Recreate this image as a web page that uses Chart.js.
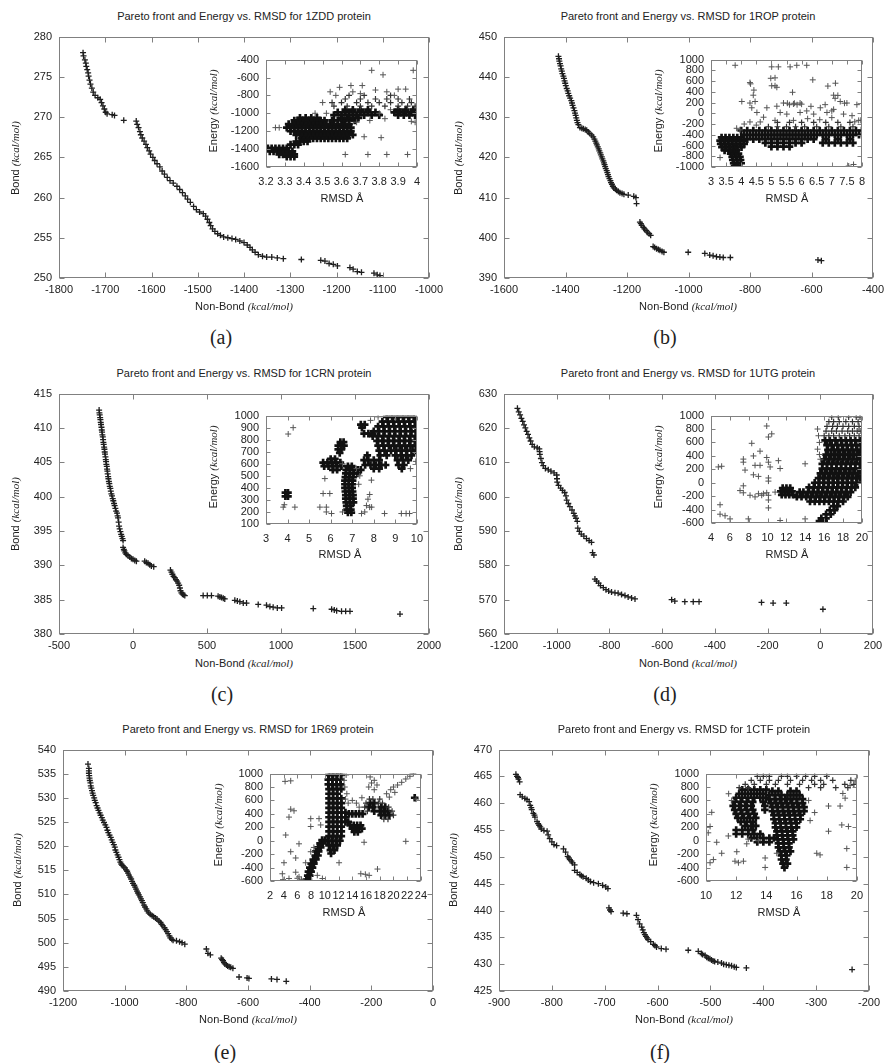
<!DOCTYPE html>
<html><head><meta charset="utf-8">
<script src="https://cdn.jsdelivr.net/npm/chart.js@4.4.0/dist/chart.umd.min.js"></script>
<style>
html,body{margin:0;padding:0;background:#fff;}
#wrap{position:relative;width:885px;height:1063px;overflow:hidden;background:#fff;}
canvas{position:absolute;}
.t{position:absolute;transform:translate(-50%,-50%);white-space:nowrap;font:11px 'Liberation Sans',Arial,sans-serif;color:#222;line-height:1;}
.r{transform:translate(-50%,-50%) rotate(-90deg);}
.t i{font-family:'Liberation Serif','Times New Roman',serif;font-style:italic;}
.cap{font:20px 'Liberation Serif','Times New Roman',serif;color:#222;}
</style></head>
<body><div id="wrap">
<canvas id="mA"></canvas><canvas id="mB"></canvas><canvas id="mC"></canvas>
<canvas id="mD"></canvas><canvas id="mE"></canvas><canvas id="mF"></canvas>
<canvas id="iA"></canvas><canvas id="iB"></canvas><canvas id="iC"></canvas>
<canvas id="iD"></canvas><canvas id="iE"></canvas><canvas id="iF"></canvas>

<div class="t" style="left:244px;top:16px">Pareto front and Energy vs. RMSD for 1ZDD protein</div>
<div class="t" style="left:688px;top:16px">Pareto front and Energy vs. RMSD for 1ROP protein</div>
<div class="t" style="left:244px;top:373px">Pareto front and Energy vs. RMSD for 1CRN protein</div>
<div class="t" style="left:688px;top:373px">Pareto front and Energy vs. RMSD for 1UTG protein</div>
<div class="t" style="left:248px;top:729px">Pareto front and Energy vs. RMSD for 1R69 protein</div>
<div class="t" style="left:684px;top:729px">Pareto front and Energy vs. RMSD for 1CTF protein</div>

<div class="t" style="left:244px;top:306px">Non-Bond <i>(kcal/mol)</i></div>
<div class="t" style="left:688px;top:306px">Non-Bond <i>(kcal/mol)</i></div>
<div class="t" style="left:244px;top:663px">Non-Bond <i>(kcal/mol)</i></div>
<div class="t" style="left:688px;top:663px">Non-Bond <i>(kcal/mol)</i></div>
<div class="t" style="left:248px;top:1019px">Non-Bond <i>(kcal/mol)</i></div>
<div class="t" style="left:684px;top:1019px">Non-Bond <i>(kcal/mol)</i></div>

<div class="t r" style="left:15px;top:158px">Bond <i>(kcal/mol)</i></div>
<div class="t r" style="left:458px;top:158px">Bond <i>(kcal/mol)</i></div>
<div class="t r" style="left:15px;top:514px">Bond <i>(kcal/mol)</i></div>
<div class="t r" style="left:458px;top:514px">Bond <i>(kcal/mol)</i></div>
<div class="t r" style="left:17px;top:870px">Bond <i>(kcal/mol)</i></div>
<div class="t r" style="left:453px;top:870px">Bond <i>(kcal/mol)</i></div>

<div class="t" style="left:342px;top:198px">RMSD Å</div>
<div class="t" style="left:787px;top:198px">RMSD Å</div>
<div class="t" style="left:340px;top:554px">RMSD Å</div>
<div class="t" style="left:787px;top:554px">RMSD Å</div>
<div class="t" style="left:344px;top:912px">RMSD Å</div>
<div class="t" style="left:779px;top:912px">RMSD Å</div>

<div class="t r" style="left:213px;top:111px">Energy <i>(kcal/mol)</i></div>
<div class="t r" style="left:658px;top:111px">Energy <i>(kcal/mol)</i></div>
<div class="t r" style="left:213px;top:467px">Energy <i>(kcal/mol)</i></div>
<div class="t r" style="left:658px;top:467px">Energy <i>(kcal/mol)</i></div>
<div class="t r" style="left:218px;top:825px">Energy <i>(kcal/mol)</i></div>
<div class="t r" style="left:653px;top:825px">Energy <i>(kcal/mol)</i></div>

<div class="t cap" style="left:221px;top:337px">(a)</div>
<div class="t cap" style="left:665px;top:337px">(b)</div>
<div class="t cap" style="left:222px;top:694px">(c)</div>
<div class="t cap" style="left:665px;top:694px">(d)</div>
<div class="t cap" style="left:225px;top:1052px">(e)</div>
<div class="t cap" style="left:660px;top:1052px">(f)</div>
</div>
<script>
// ---------- axis ranges [min, max, step] ----------
const axA_x=[-1800,-1000,100], axA_y=[250,280,5];
const axB_x=[-1600,-400,200], axB_y=[390,450,10];
const axC_x=[-500,2000,500], axC_y=[380,415,5];
const axD_x=[-1200,200,200], axD_y=[560,630,10];
const axE_x=[-1200,0,200], axE_y=[490,540,5];
const axF_x=[-900,-200,100], axF_y=[425,470,5];
const inA_x=[3.2,4,0.1], inA_y=[-1600,-400,200];
const inB_x=[3,8,0.5], inB_y=[-1000,1000,200];
const inC_x=[3,10,1], inC_y=[100,1000,100];
const inD_x=[4,20,2], inD_y=[-600,1000,200];
const inE_x=[2,24,2], inE_y=[-600,1000,200];
const inF_x=[10,20,2], inF_y=[-600,1000,200];

// ---------- Pareto fronts [non-bond, bond] ----------
const frontA=[[-1748,278.0],[-1747,277.6],[-1744,277.1],[-1742,276.7],[-1741,276.3],[-1739,275.9],[-1737,275.5],[-1736,275.1],[-1734,274.6],[-1732,274.1],[-1729,273.6],[-1726,273.1],[-1722,272.7],[-1716,272.4],[-1711,272.2],[-1708,271.8],[-1705,271.4],[-1702,271.0],[-1699,270.6],[-1696,270.4],[-1685,270.3],[-1680,270.2],[-1660,269.6],
[-1633,269.5],[-1631,269.1],[-1628,268.7],[-1625,268.2],[-1623,267.8],[-1620,267.4],[-1616,267.0],[-1612,266.6],[-1609,266.2],[-1605,265.8],[-1602,265.4],[-1597,265.0],[-1593,264.6],[-1588,264.2],[-1582,263.8],[-1577,263.3],[-1572,262.9],[-1566,262.5],[-1560,262.1],[-1553,261.8],[-1545,261.4],[-1539,261.0],[-1533,260.6],[-1527,260.2],[-1522,259.8],[-1516,259.4],[-1509,258.9],[-1503,258.5],[-1496,258.2],[-1488,258.0],[-1483,257.7],[-1479,257.3],[-1475,256.9],[-1472,256.5],[-1468,256.1],[-1463,255.8],[-1457,255.5],[-1451,255.3],[-1444,255.1],[-1435,255.0],[-1426,254.9],[-1418,254.8],[-1409,254.6],[-1400,254.4],[-1393,254.1],[-1387,253.8],[-1382,253.5],[-1376,253.2],[-1369,252.9],[-1360,252.7],[-1351,252.6],[-1340,252.6],[-1328,252.5],[-1315,252.4],[-1276,252.3],[-1234,252.2],[-1225,252.1],[-1216,251.8],[-1207,251.7],[-1198,251.5],[-1171,251.3],[-1164,251.1],[-1155,250.8],[-1146,250.7],[-1119,250.6],[-1112,250.4],[-1106,250.3]];

const frontB=[[-1423,445.1],[-1421,444.5],[-1420,443.9],[-1418,443.3],[-1416,442.7],[-1414,442.0],[-1412,441.4],[-1410,440.8],[-1407,440.2],[-1405,439.6],[-1403,439.0],[-1401,438.4],[-1399,437.8],[-1396,437.1],[-1393,436.5],[-1391,435.9],[-1388,435.3],[-1385,434.7],[-1381,434.1],[-1379,433.5],[-1377,432.9],[-1374,432.3],[-1371,431.6],[-1369,431.0],[-1367,430.4],[-1365,429.8],[-1363,429.2],[-1361,428.6],[-1358,428.1],[-1353,427.4],[-1347,427.2],[-1342,427.1],[-1336,426.9],[-1331,426.7],[-1326,426.3],[-1321,425.9],[-1315,425.5],[-1310,425.1],[-1306,424.5],[-1303,424.0],[-1300,423.5],[-1298,423.1],[-1295,422.6],[-1292,422.1],[-1290,421.6],[-1287,421.1],[-1285,420.6],[-1282,420.1],[-1280,419.6],[-1277,419.1],[-1275,418.6],[-1273,418.2],[-1271,417.7],[-1269,417.2],[-1266,416.7],[-1264,416.2],[-1262,415.7],[-1260,415.2],[-1257,414.7],[-1254,414.2],[-1252,413.7],[-1249,413.3],[-1246,412.8],[-1243,412.4],[-1238,412.1],[-1234,411.8],[-1228,411.5],[-1223,411.2],[-1216,411.0],[-1210,410.8],[-1196,410.6],[-1178,410.3],[-1171,410.0],[-1169,408.5],[-1158,403.9],[-1155,403.5],[-1152,403.1],[-1147,402.6],[-1143,402.2],[-1138,401.8],[-1134,401.4],[-1128,401.0],[-1123,400.6],[-1115,397.8],[-1110,397.6],[-1104,397.3],[-1098,397.1],[-1093,396.9],[-1086,396.6],[-1080,396.4],[-1001,396.4],[-947,396.1],[-931,395.7],[-920,395.5],[-909,395.3],[-898,395.2],[-887,395.1],[-864,395.1],[-579,394.5],[-568,394.3]];

const frontC=[[-229,412.6],[-227,412.2],[-225,411.9],[-222,411.5],[-220,411.2],[-218,410.8],[-216,410.5],[-213,410.1],[-211,409.7],[-209,409.4],[-207,409.0],[-204,408.7],[-202,408.3],[-200,407.9],[-198,407.6],[-195,407.2],[-193,406.9],[-191,406.5],[-189,406.2],[-186,405.8],[-184,405.4],[-182,405.1],[-180,404.7],[-177,404.4],[-175,404.0],[-173,403.7],[-171,403.3],[-168,402.9],[-166,402.6],[-163,402.2],[-160,401.9],[-157,401.5],[-153,401.2],[-150,400.8],[-146,400.4],[-142,400.1],[-137,399.7],[-133,399.4],[-128,399.0],[-124,398.7],[-119,398.3],[-114,397.9],[-108,397.6],[-104,397.2],[-101,396.9],[-97,396.3],[-94,395.7],[-90,395.3],[-85,394.9],[-80,394.5],[-76,394.2],[-71,393.9],[-67,393.6],[-67,392.6],[-62,392.3],[-58,392.1],[-52,391.8],[-45,391.6],[-34,391.4],[-22,391.2],[-11,391.0],[0,390.9],[12,390.7],[23,390.6],[79,390.6],[90,390.4],[102,390.3],[113,390.1],[124,389.9],[140,389.8],[253,389.3],[260,389.0],[266,388.7],[274,388.4],[282,388.2],[290,387.9],[298,387.7],[305,387.4],[312,387.1],[317,386.7],[321,386.3],[327,386.0],[334,385.8],[342,385.7],[350,385.6],[474,385.6],[502,385.6],[530,385.6],[575,385.5],[587,385.4],[598,385.3],[610,385.2],[620,385.1],[688,384.9],[705,384.8],[722,384.7],[745,384.5],[767,384.5],[846,384.3],[902,384.2],[925,384.0],[947,383.9],[975,383.8],[1004,383.8],[1218,383.7],[1342,383.6],[1360,383.5],[1376,383.4],[1409,383.3],[1437,383.3],[1466,383.3],[1804,382.9]];

const frontD=[[-1149,625.7],[-1144,624.7],[-1139,623.8],[-1134,622.8],[-1129,621.9],[-1124,620.9],[-1119,620.0],[-1114,619.0],[-1109,618.1],[-1104,617.1],[-1099,616.2],[-1093,615.2],[-1085,614.5],[-1074,614.2],[-1066,613.9],[-1065,613.1],[-1064,612.3],[-1060,611.1],[-1056,609.9],[-1051,609.0],[-1043,608.2],[-1032,607.8],[-1022,607.4],[-1010,606.9],[-1000,606.3],[-999,605.2],[-998,604.2],[-993,603.3],[-985,602.5],[-978,601.8],[-970,601.2],[-965,600.2],[-962,599.0],[-956,598.0],[-950,597.1],[-942,596.1],[-935,595.1],[-931,594.4],[-927,593.7],[-922,592.8],[-920,590.8],[-914,589.9],[-907,589.1],[-897,588.5],[-887,587.8],[-877,587.2],[-868,586.7],[-864,583.7],[-859,583.0],[-855,576.0],[-849,575.4],[-841,574.8],[-834,574.1],[-823,573.5],[-813,572.9],[-803,572.5],[-792,572.2],[-779,572.0],[-767,571.9],[-754,571.5],[-741,571.2],[-729,570.8],[-716,570.5],[-703,570.2],[-564,570.0],[-552,569.6],[-514,569.4],[-482,569.4],[-460,569.4],[-223,569.2],[-179,569.0],[-129,569.0],[10,567.2]];

const frontE=[[-1119,537.0],[-1116,536.1],[-1116,535.6],[-1116,535.1],[-1115,534.6],[-1114,534.1],[-1113,533.6],[-1111,533.1],[-1110,532.5],[-1108,532.0],[-1106,531.5],[-1104,531.0],[-1102,530.5],[-1099,530.0],[-1097,529.5],[-1094,529.0],[-1091,528.4],[-1088,527.9],[-1085,527.4],[-1081,526.9],[-1078,526.4],[-1074,525.9],[-1071,525.4],[-1067,524.9],[-1063,524.4],[-1059,523.9],[-1056,523.3],[-1053,522.8],[-1049,522.3],[-1045,521.8],[-1042,521.3],[-1039,520.8],[-1035,520.3],[-1032,519.8],[-1030,519.2],[-1027,518.7],[-1023,518.2],[-1020,517.7],[-1017,517.2],[-1014,516.7],[-1011,516.3],[-1008,516.0],[-1003,515.7],[-999,515.5],[-995,515.1],[-992,514.8],[-989,514.4],[-986,514.0],[-982,513.6],[-979,513.2],[-976,512.7],[-973,512.3],[-969,511.9],[-966,511.5],[-963,511.1],[-960,510.7],[-957,510.3],[-954,509.9],[-950,509.5],[-947,509.1],[-944,508.7],[-941,508.3],[-937,507.8],[-934,507.4],[-930,507.0],[-927,506.6],[-922,506.2],[-917,505.9],[-911,505.6],[-906,505.4],[-900,505.1],[-895,504.9],[-889,504.5],[-884,504.2],[-880,503.8],[-876,503.5],[-871,503.1],[-867,502.7],[-863,502.3],[-859,501.9],[-855,501.4],[-852,501.0],[-847,500.7],[-843,500.5],[-832,500.4],[-822,500.2],[-814,500.0],[-805,499.7],[-735,498.7],[-730,497.8],[-722,497.5],[-687,496.8],[-684,496.5],[-681,496.3],[-678,495.9],[-675,495.6],[-670,495.4],[-666,495.2],[-661,495.0],[-656,494.9],[-649,494.7],[-629,492.9],[-603,492.7],[-597,492.6],[-524,492.5],[-506,492.4],[-476,492.0]];

const frontF=[[-868,465.4],[-866,465.0],[-864,464.8],[-863,464.5],[-861,464.0],[-860,461.6],[-856,461.2],[-851,460.9],[-847,460.7],[-843,460.3],[-841,459.6],[-839,459.2],[-838,458.8],[-835,458.1],[-833,457.8],[-832,457.4],[-828,456.6],[-826,456.2],[-824,455.9],[-822,455.6],[-820,455.2],[-815,454.9],[-809,454.8],[-807,454.1],[-804,453.4],[-800,452.8],[-796,452.3],[-791,452.1],[-778,451.5],[-774,450.9],[-770,450.1],[-768,449.8],[-766,449.5],[-763,449.2],[-761,448.9],[-757,448.5],[-757,447.5],[-752,447.1],[-747,446.7],[-744,446.5],[-741,446.3],[-735,446.0],[-731,445.7],[-727,445.4],[-721,445.2],[-712,445.0],[-704,444.7],[-698,444.4],[-694,444.1],[-692,440.5],[-690,440.1],[-688,439.8],[-665,439.5],[-658,439.4],[-640,439.1],[-637,438.3],[-634,437.5],[-630,436.9],[-628,436.4],[-626,435.9],[-624,435.5],[-622,435.2],[-620,434.9],[-618,434.6],[-613,434.2],[-608,433.7],[-605,433.5],[-602,433.2],[-593,432.9],[-584,432.8],[-542,432.6],[-523,432.4],[-517,432.0],[-515,431.8],[-510,431.6],[-507,431.3],[-504,431.1],[-501,431.0],[-498,430.8],[-495,430.6],[-492,430.5],[-486,430.4],[-479,430.2],[-475,430.0],[-470,429.9],[-465,429.8],[-460,429.7],[-455,429.5],[-451,429.4],[-432,429.3],[-232,429.0]];

// ---------- Insets: Energy vs RMSD. dense rows: [energy, [rmsd...]] ; sparse: [rmsd, energy] ----------
const insetA_dense=[
[-1390,[3.21,3.23,3.25,3.27,3.29,3.31]],
[-1425,[3.22,3.24,3.26,3.28,3.30,3.32,3.34]],
[-1460,[3.27,3.29,3.31,3.33,3.35]],
[-1485,[3.31,3.33,3.35]],
[-1350,[3.33,3.35,3.37]],
[-1315,[3.36,3.38,3.40,3.42]],
[-1280,[3.39,3.41,3.43,3.45,3.47,3.49,3.51,3.53,3.55,3.57,3.59,3.61,3.63]],
[-1240,[3.36,3.38,3.40,3.42,3.44,3.46,3.48,3.50,3.52,3.54,3.56,3.58,3.60,3.62,3.64,3.66]],
[-1200,[3.33,3.35,3.37,3.39,3.41,3.43,3.45,3.47,3.49,3.51,3.53,3.55,3.57,3.59,3.61,3.63,3.65]],
[-1160,[3.31,3.33,3.35,3.37,3.39,3.41,3.43,3.45,3.47,3.49,3.51,3.53,3.55,3.57,3.59,3.61,3.63,3.65]],
[-1120,[3.32,3.34,3.36,3.38,3.40,3.42,3.44,3.46,3.48,3.50,3.52,3.54,3.56,3.58,3.60,3.62,3.64]],
[-1080,[3.35,3.37,3.39,3.41,3.43,3.45,3.47,3.49,3.51,3.55,3.58,3.61,3.64,3.67]],
[-1050,[3.38,3.41,3.44,3.47,3.60,3.63,3.66,3.69]],
[-1020,[3.56,3.60,3.64,3.68,3.72,3.76,3.80,3.90,3.93,3.96,3.99]],
[-990,[3.58,3.62,3.66,3.70,3.74,3.78,3.88,3.91,3.94,3.97]],
[-960,[3.62,3.66,3.70,3.74,3.90,3.94,3.98]]];
const insetA_mid=[
[-920,[3.56,3.63,3.70,3.76,3.83,3.90,3.95,3.99]],
[-880,[3.55,3.60,3.68,3.74,3.80,3.86,3.92,3.97]],
[-840,[3.62,3.70,3.78,3.84,3.90,3.96]],
[-800,[3.64,3.72,3.86]]];
const insetA_sparse=[[3.25,-1160],[3.27,-1160],[3.54,-760],[3.59,-710],[3.65,-690],[3.71,-690],[3.76,-520],[3.82,-570],[3.84,-760],[3.88,-800],[3.90,-730],[3.94,-730],[3.98,-520],[3.99,-1100],[3.97,-1090],[3.72,-1262],[3.81,-1272],[3.62,-1460],[3.74,-1460],[3.84,-1460],[3.95,-1460],[3.66,-760],[3.70,-780],[3.78,-740],[3.57,-800],[3.50,-880],[3.52,-1000],[3.46,-1000],[3.68,-1100],[3.75,-1080],[3.83,-1060],[3.86,-960],[3.80,-1000]];

const insetB_dense=[
[-450,[3.35,3.48,3.61,3.74,3.87,4.00]],
[-510,[3.30,3.43,3.56,3.69,3.82,3.95,4.08]],
[-570,[3.32,3.45,3.58,3.71,3.84,3.97,4.10]],
[-630,[3.36,3.49,3.62,3.75,3.88,4.01]],
[-690,[3.45,3.58,3.71,3.84]],
[-750,[3.65,3.78,3.91]],
[-810,[3.70,3.83,3.96]],
[-870,[3.72,3.85,3.98]],
[-930,[3.75,3.88,4.00]],
[-980,[3.78,3.90]],
[-320,[4.0,4.2,4.4,4.6,4.8,5.0,5.2,5.4,5.6,5.8,6.0,6.2,6.4,6.6,6.8,7.0,7.2,7.4,7.6,7.8,8.0]],
[-400,[4.1,4.3,4.5,4.7,4.9,5.1,5.3,5.5,5.7,5.9,6.1,6.3,6.5,6.7,6.9,7.1,7.3,7.5,7.7,7.9]],
[-480,[4.2,4.4,4.6,4.8,5.0,5.2,5.4,5.6,5.8,6.0,6.2,6.4,6.8,7.2,7.6]],
[-550,[4.8,5.0,5.2,5.4,5.6,5.8,6.0,6.7,6.9,7.1,7.3,7.5,7.7]],
[-620,[5.0,5.2,5.4,5.6]]];
const insetB_mid=[
[-250,[4.9,5.2,5.5,5.8,6.1,6.5,6.9,7.3,7.7]],
[-170,[5.2,5.6,6.0,6.4,6.8,7.2,7.6]]];
const insetB_sparse=[[3.80,894],[5.01,865],[5.23,865],[5.62,865],[5.84,894],[6.17,894],[5.12,660],[5.12,513],[5.18,484],[5.01,513],[4.29,572],[4.40,337],[4.02,220],[4.29,191],[4.46,220],[4.35,103],[4.52,15],[4.74,-73],[4.85,103],[5.18,132],[5.40,191],[5.73,173],[5.95,191],[5.29,15],[5.51,-15],[5.95,15],[6.17,44],[6.40,-15],[6.62,103],[6.78,161],[6.84,15],[7.00,44],[7.06,337],[7.11,279],[7.06,73],[7.28,220],[7.50,191],[7.39,-15],[7.67,-44],[7.83,161],[5.12,-132],[5.73,-132],[4.29,-161],[4.63,-161],[3.85,-279],[3.96,-308],[3.30,-824],[7.56,-982],[7.72,-953],[7.12,560],[6.37,623],[4.31,548],[4.42,432],[4.98,652],[5.70,391],[6.87,507],[7.20,333],[5.53,188],[5.76,188],[6.31,130],[7.42,188],[7.76,-159],[7.96,-130],[5.60,160],[5.85,160],[6.00,170],[6.20,-100],[6.60,-120],[7.00,-80],[7.89,-132],[4.10,-200],[4.50,-220]];

const insetC_dense=[
[580,[6.80,6.98]],[550,[6.72,6.90,7.08,7.26,7.40]],[520,[6.70,6.88,7.06,7.24]],[490,[6.68,6.86,7.04]],[460,[6.66,6.84,7.02]],[430,[6.66,6.84,7.00]],[400,[6.66,6.84,7.00]],[370,[6.68,6.86,7.02]],[340,[6.70,6.88,7.04]],[310,[6.70,6.88,7.04]],[280,[6.72,6.90,7.06]],[250,[6.74,6.92]],[220,[6.76,6.94]],[195,[6.80,6.96]],
[780,[6.45,6.60]],[750,[6.35,6.50,6.62]],[720,[6.35,6.50]],[690,[6.42]],
[640,[6.00,6.20]],[610,[5.65,5.85,6.05,6.25,6.45]],[580,[5.70,5.90,6.10,6.30,6.50]],[550,[6.10,6.30]],
[360,[3.90,4.02]],[330,[3.90,4.02]],
[925,[7.40,7.58]],[900,[7.45]],[850,[7.55,7.75,7.95]],
[990,[8.60,8.85,9.10,9.35,9.60,9.85]],
[950,[8.40,8.65,8.90,9.15,9.40,9.65,9.90]],
[910,[8.20,8.45,8.70,8.95,9.20,9.45,9.70,9.95]],
[870,[8.00,8.25,8.50,8.75,9.00,9.25,9.50,9.75,9.95]],
[830,[7.95,8.20,8.45,8.70,8.95,9.20,9.45,9.70,9.95]],
[790,[8.15,8.40,8.65,8.90,9.15,9.40,9.65,9.90]],
[750,[8.20,8.45,8.70,8.95,9.20,9.45,9.70,9.95]],
[710,[8.25,8.50,8.80,9.05,9.30,9.55,9.80,9.95]],
[670,[7.70,8.30,8.60,9.00,9.25,9.50,9.75]],
[630,[7.55,7.75,8.00,8.25,9.10,9.35,9.60]],
[590,[7.60,7.85,8.10,8.35,8.55,9.15,9.40]],
[560,[8.00,8.25,9.30]]];
const insetC_sparse=[[4.03,847],[4.26,900],[3.80,240],[4.34,240],[3.85,260],[5.73,477],[5.65,353],[5.96,353],[5.50,240],[5.80,240],[5.80,200],[6.04,187],[7.43,187],[7.58,200],[7.66,253],[7.81,345],[7.73,306],[7.81,240],[7.90,240],[7.89,464],[8.50,187],[9.28,187],[9.50,187],[9.66,187],[6.55,200],[7.30,430],[7.35,500],[7.85,960],[8.20,990],[7.20,560],[6.55,600],[9.95,620],[9.70,560]];

const insetD_dense=[
[630,[16.1,16.6,17.2,17.8,18.3,18.8,19.3,19.8]],
[560,[16.3,16.8,17.4,17.9,18.4,18.9,19.4,19.9]],
[490,[16.4,17.0,17.5,18.0,18.5,19.0,19.5,19.9]],
[420,[16.2,16.7,17.2,17.7,18.2,18.7,19.2,19.7]],
[350,[16.0,16.5,17.0,17.5,18.0,18.5,19.0,19.5,19.9]],
[280,[15.8,16.3,16.8,17.3,17.8,18.3,18.8,19.3,19.8]],
[210,[15.8,16.3,16.8,17.3,17.8,18.3,18.8,19.3,19.8]],
[140,[15.6,16.1,16.6,17.1,17.6,18.1,18.6,19.1,19.6]],
[70,[15.4,15.9,16.4,16.9,17.4,17.9,18.4,18.9,19.4,19.8]],
[0,[15.0,15.5,16.0,16.5,17.0,17.5,18.0,18.5,19.0,19.5]],
[-70,[14.4,14.9,15.4,15.9,16.4,16.9,17.4,17.9,18.4,18.9,19.3]],
[-140,[13.4,13.8,14.3,14.8,15.3,15.8,16.3,16.8,17.3,17.8,18.3,18.8]],
[-210,[13.1,13.6,14.1,14.6,15.1,15.6,16.1,16.6,17.1,17.6,18.1,18.5]],
[-280,[14.5,15.0,15.5,16.0,16.5,17.0,17.5,18.0]],
[-350,[17.0,17.4]],[-410,[16.6,17.1]],[-470,[16.2,16.7]],[-530,[15.7,16.2]],[-570,[15.5,16.0]],
[-80,[11.6,12.0,12.4]],[-130,[11.4,11.8,12.2,12.6]],[-180,[11.5,11.9,12.3,12.7]]];
const insetD_mid=[
[980,[16.8,17.5,18.6,19.4,19.8]],
[910,[16.5,17.0,17.6,18.3,19.0,19.6]],
[840,[16.3,16.9,17.4,18.0,18.6,19.2,19.7]],
[770,[16.2,16.8,17.3,17.9,18.5,19.0,19.5,19.9]],
[700,[16.0,16.5,17.0,17.6,18.2,18.7,19.2,19.7]]];
const insetD_sparse=[[15.3,800],[15.4,700],[15.5,600],[15.3,500],[15.5,420],[15.6,350],[9.91,845],[10.09,681],[10.44,728],[8.32,587],[8.50,399],[9.20,470],[7.43,352],[7.43,306],[8.67,259],[9.20,259],[9.91,376],[10.09,306],[10.27,235],[11.15,329],[11.33,212],[7.61,188],[8.50,118],[9.03,94],[10.09,71],[10.09,24],[13.98,282],[5.13,245],[4.78,235],[7.43,-46],[7.43,-150],[8.14,-187],[8.67,-211],[9.03,-164],[9.38,-187],[9.56,-164],[9.91,-150],[10.09,-187],[10.09,-257],[10.09,-375],[7.08,-117],[10.80,-140],[4.96,-328],[4.96,-469],[5.49,-492],[6.02,-539],[7.96,-539],[11.33,-563],[13.98,-539]];

const insetE_dense=[
[980,[10.6,11.2,11.8,12.4]],[910,[10.5,11.1,11.7,12.3]],[840,[10.5,11.1,11.7,12.3]],[770,[10.6,11.2,11.8,12.4]],[700,[10.6,11.2,11.8]],[630,[10.6,11.2,11.8,12.4]],[560,[10.6,11.2,11.8,12.4]],[490,[10.6,11.2,11.8,12.4]],[420,[10.6,11.2,11.8,12.4,13.0]],[350,[10.6,11.2,11.8,12.4,13.0]],[280,[10.6,11.2,11.8,12.4,13.0]],[210,[10.6,11.2,11.8,12.4]],[140,[10.6,11.2,11.8,12.4]],[70,[10.6,11.2,11.8,12.4]],[0,[10.4,11.0,11.6,12.2]],[-70,[10.6,11.2,11.8]],[-140,[10.8,11.4]],[-190,[10.9]],
[10,[9.6,10.0]],[-40,[9.3,9.7]],[-100,[9.0,9.4]],[-160,[8.7,9.1]],[-220,[8.6,9.0]],[-280,[8.3,8.7]],[-340,[8.0,8.4]],[-400,[7.8,8.2]],[-460,[7.6,8.0]],[-520,[7.5,7.8]],[-580,[7.3,7.6]],
[400,[13.5,14.0,14.5,15.0,15.5]],[280,[13.4]],[230,[13.7,14.2,14.7,15.2]],[180,[14.0,14.5,15.0,15.4]],[130,[14.3,14.8]],
[560,[16.6,17.2]],[500,[16.4,17.0,18.2,18.8]],[440,[17.2,18.0,18.6,19.2]],[380,[18.2,18.8,19.4]],[640,[23.1]]];
const insetE_mid=[
[620,[16.5,17.0,18.0]],[560,[16.0,17.8,18.4]],[500,[15.8,19.3]],[440,[16.2,19.8]],[380,[20.0]],[320,[18.6,19.2]]];
const insetE_sparse=[[19.0,700],[19.6,760],[20.0,800],[20.6,830],[21.2,870],[21.8,920],[22.4,960],[22.9,1000],[19.4,650],[20.2,720],[23.3,620],[16.6,950],[17.2,900],[16.8,860],[17.6,830],[16.4,800],[17.2,760],[12.9,800],[13.2,700],[13.0,620],[13.4,560],[12.8,900],[13.1,980],[14.0,600],[14.6,560],[15.0,500],[15.4,640],
[5.02,892],[5.02,470],[5.50,446],[4.77,352],[7.94,329],[9.15,329],[9.39,235],[7.94,212],[4.29,85],[6.23,-46],[5.02,-164],[5.75,-257],[4.04,-328],[3.80,-492],[5.75,-469],[6.23,-539],[4.77,-563],[9.64,-563],[12.07,-328],[15.72,-23],[17.67,-422],[15.24,-492],[15.90,-500],[16.46,-516],[21.8,-9],[7.94,-164],[7.20,-328],[8.90,-516],[4.20,884],[6.00,-560],[6.60,-580],[3.90,-580],[8.40,-100]];

const insetF_dense=[
[-400,[15.2]],[-340,[15.1,15.4]],[-280,[15.0,15.3]],[-220,[15.0,15.35]],[-160,[14.9,15.25,15.6]],[-100,[14.8,15.15,15.5]],[-40,[14.8,15.15,15.5]],[20,[14.75,15.1,15.45,15.8]],[80,[14.7,15.05,15.4,15.75]],[140,[14.7,15.05,15.4,15.75]],[200,[14.6,14.95,15.3,15.65,16.0]],[260,[14.6,14.95,15.3,15.65,16.0]],[320,[14.5,14.85,15.2,15.55,15.9,16.25]],[380,[14.5,14.85,15.2,15.55,15.9,16.25]],[440,[14.4,14.75,15.1,15.45,15.8,16.15,16.5]],[500,[14.4,14.75,15.1,15.45,15.8,16.15,16.5]],[560,[14.3,14.65,15.0,15.35,15.7,16.05,16.4]],[620,[14.2,14.55,14.9,15.25,15.6,16.0,16.4]],[680,[14.2,14.6,15.0,15.4,15.8,16.2]],[740,[14.4,14.8,15.6,16.0]],
[760,[12.4,12.8,13.2,13.6,14.0]],[700,[12.2,12.6,13.0,13.4,13.8]],[640,[12.0,12.4,12.8,13.2,13.6,14.0]],[580,[11.9,12.3,12.7,13.1,13.8]],[520,[11.8,12.2,12.6,13.0,13.9]],[460,[11.9,12.3,12.7,13.1,13.9]],[400,[12.0,12.4,12.8,13.2]],[340,[12.1,12.5,12.9,13.3]],[280,[12.3,12.7,13.1]],[220,[12.6,13.0,13.3]],[160,[12.0,12.4,12.8,13.1]],[100,[12.0,12.4,12.8,13.2,13.6]],[40,[13.0,13.4,13.8,14.2,14.5]],[-20,[13.4,13.8,14.2]]];
const insetF_mid=[
[960,[13.4,13.8,14.2,15.0,15.4,16.0,16.6,17.2,18.0]],
[900,[13.0,13.6,14.2,14.8,15.6,16.4,17.0,17.6,18.4,19.6]],
[840,[12.6,13.2,14.0,14.6,15.4,16.2,17.2,17.8,19.2,19.8]],
[790,[12.2,12.8,16.8,17.6,18.6,19.4]]];
const insetF_sparse=[[10.38,423],[10.27,212],[10.15,118],[10.71,-23],[11.48,71],[11.04,-187],[10.49,-281],[10.27,-328],[11.92,-305],[12.15,-328],[12.48,-305],[12.04,-164],[13.92,-257],[13.92,-398],[14.69,-187],[17.34,-187],[17.56,-211],[18.12,141],[19.00,235],[19.44,212],[19.33,-117],[19.33,-398],[18.12,517],[18.89,517],[19.22,634],[19.55,822],[19.89,892],[19.07,704],[12.80,24],[12.70,-46],[13.47,0],[11.7,600],[11.5,700],[16.8,600],[17.2,420],[16.9,300]];

// ---------- helpers ----------
const rowsToPts = rows => { const o=[]; rows.forEach(([y,xs])=>xs.forEach(x=>o.push({x:x,y:y}))); return o; };
const pairsToPts = p => p.map(([x,y])=>({x:x,y:y}));
const fmt = v => String(Math.round(v*1000)/1000);

const frame = {
  id:'frame',
  afterDatasetsDraw(chart, args, opts){
    const {ctx, chartArea:a, scales:{x,y}} = chart;
    const tl = opts.tick || 5;
    ctx.save();
    ctx.strokeStyle = '#808080'; ctx.lineWidth = 1;
    const L=Math.round(a.left)+0.5, R=Math.round(a.right)-0.5, T=Math.round(a.top)+0.5, B=Math.round(a.bottom)-0.5;
    ctx.strokeRect(L, T, R-L, B-T);
    ctx.beginPath();
    x.ticks.forEach(t=>{ const p=Math.round(x.getPixelForValue(t.value))+0.5; ctx.moveTo(p,B); ctx.lineTo(p,B-tl); ctx.moveTo(p,T); ctx.lineTo(p,T+tl); });
    y.ticks.forEach(t=>{ const p=Math.round(y.getPixelForValue(t.value))+0.5; ctx.moveTo(L,p); ctx.lineTo(L+tl,p); ctx.moveTo(R,p); ctx.lineTo(R-tl,p); });
    ctx.stroke();
    ctx.restore();
  }
};

Chart.defaults.font.family = "'Liberation Sans', Arial, sans-serif";
Chart.defaults.color = '#222';

const MAIN = {pt:10, pr:24, yw:44, xh:22, xpad:5, ypad:7, tick:5, fs:11};
const INS  = {pt:8,  pr:14, yw:40, xh:24, xpad:8, ypad:7, tick:4, fs:11};

function makeChart(id, box, xr, yr, sets, o){
  const cv = document.getElementById(id);
  const W = box[2]-box[0]+o.yw+o.pr, H = box[3]-box[1]+o.pt+o.xh;
  cv.width=W; cv.height=H;
  cv.style.width=W+'px'; cv.style.height=H+'px';
  cv.style.left=(box[0]-o.yw)+'px'; cv.style.top=(box[1]-o.pt)+'px';
  const axis = (r, pad, isX) => ({
    type:'linear', min:r[0], max:r[1],
    grid:{display:false, drawTicks:false}, border:{display:false},
    ticks:{stepSize:r[2], autoSkip:false, maxRotation:0, minRotation:0, padding:pad, font:{size:o.fs}, color:'#222', callback:fmt},
    afterFit: s => { if(isX) s.height=o.xh; else s.width=o.yw; }
  });
  return new Chart(cv, {
    type:'scatter',
    data:{datasets:sets},
    options:{
      responsive:false, animation:false, events:[], devicePixelRatio:1,
      layout:{padding:{left:0, top:o.pt, right:o.pr, bottom:0}},
      plugins:{legend:{display:false}, tooltip:{enabled:false}, frame:{tick:o.tick}},
      scales:{ x:axis(xr, o.xpad, true), y:axis(yr, o.ypad, false) }
    },
    plugins:[frame]
  });
}

const frontSet = d => [{data:pairsToPts(d), pointStyle:'cross', pointRadius:3, borderWidth:1.3, borderColor:'#1e1e1e', backgroundColor:'#1e1e1e'}];
const insetSets = (dense, mid, sparse) => [
  {data:pairsToPts(sparse), pointStyle:'cross', pointRadius:3, borderWidth:1, borderColor:'#555', backgroundColor:'#555'},
  {data:rowsToPts(mid), pointStyle:'cross', pointRadius:3, borderWidth:1.2, borderColor:'#333', backgroundColor:'#333'},
  {data:rowsToPts(dense), pointStyle:'cross', pointRadius:3.8, borderWidth:2.7, borderColor:'#111', backgroundColor:'#111'}
];

makeChart('mA',[59,33,429,278],axA_x,axA_y,frontSet(frontA),MAIN);
makeChart('mB',[504,33,873,278],axB_x,axB_y,frontSet(frontB),MAIN);
makeChart('mC',[59,390,429,634],axC_x,axC_y,frontSet(frontC),MAIN);
makeChart('mD',[504,390,873,634],axD_x,axD_y,frontSet(frontD),MAIN);
makeChart('mE',[63,746,433,991],axE_x,axE_y,frontSet(frontE),MAIN);
makeChart('mF',[499,746,869,991],axF_x,axF_y,frontSet(frontF),MAIN);

makeChart('iA',[266,54,417,167],inA_x,inA_y,insetSets(insetA_dense,insetA_mid,insetA_sparse),INS);
makeChart('iB',[711,54,862,167],inB_x,inB_y,insetSets(insetB_dense,insetB_mid,insetB_sparse),INS);
makeChart('iC',[266,410,417,524],inC_x,inC_y,insetSets(insetC_dense,[],insetC_sparse),INS);
makeChart('iD',[711,410,862,523],inD_x,inD_y,insetSets(insetD_dense,insetD_mid,insetD_sparse),INS);
makeChart('iE',[270,768,421,881],inE_x,inE_y,insetSets(insetE_dense,insetE_mid,insetE_sparse),INS);
makeChart('iF',[706,768,857,881],inF_x,inF_y,insetSets(insetF_dense,insetF_mid,insetF_sparse),INS);
</script>
</body></html>
